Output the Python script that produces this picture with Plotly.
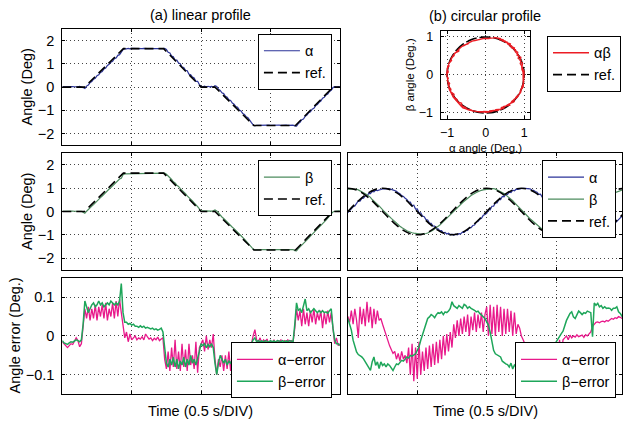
import numpy as np
import plotly.graph_objects as go

# ---------------- data ----------------
# linear profile reference: breakpoints (time s, angle deg)
T_LIN = [0.0, 0.16, 0.44, 0.73, 1.0, 1.1, 1.38, 1.68, 1.95, 2.0]
REF_LIN = [0.0, 0.0, 1.65, 1.65, 0.0, 0.0, -1.65, -1.65, 0.0, 0.0]

# circular profile reference samples every 0.05 s
REF_STEP = 0.05
ALPHA_REF_CIRC = [0, 0.309, 0.588, 0.809, 0.951, 1, 0.951, 0.809, 0.588, 0.309,
                  0, -0.309, -0.588, -0.809, -0.951, -1, -0.951, -0.809, -0.588, -0.309,
                  0, 0.309, 0.588, 0.809, 0.951, 1, 0.951, 0.809, 0.588, 0.309,
                  0, -0.309, -0.588, -0.809, -0.951, -1, -0.951, -0.809, -0.588, -0.309, 0]
BETA_REF_CIRC = [1, 0.951, 0.809, 0.588, 0.309, 0, -0.309, -0.588, -0.809, -0.951,
                 -1, -0.951, -0.809, -0.588, -0.309, 0, 0.309, 0.588, 0.809, 0.951,
                 1, 0.951, 0.809, 0.588, 0.309, 0, -0.309, -0.588, -0.809, -0.951,
                 -1, -0.951, -0.809, -0.588, -0.309, 0, 0.309, 0.588, 0.809, 0.951, 1]

# tracking errors sampled every 0.0125 s (deg)
ERR_STEP = 0.0125
ALPHA_ERR_LIN = [
    -0.015, -0.02, -0.025, -0.03, -0.025, -0.02, -0.022, -0.015,
    -0.005, -0.012, -0.028, -0.02, 0.02, 0.07, 0.045, 0.075,
    0.04, 0.07, 0.045, 0.08, 0.04, 0.075, 0.05, 0.08,
    0.045, 0.085, 0.04, 0.07, 0.05, 0.085, 0.045, 0.09,
    0.05, 0.095, 0.06, 0.03, -0.005, 0.01, -0.015, 0.005,
    -0.01, -0.005, 0.0, -0.01, -0.005, -0.008, -0.002, -0.01,
    0.005, -0.002, -0.008, -0.005, -0.012, -0.006, -0.01, -0.003,
    -0.012, -0.008, -0.005, -0.06, -0.085, -0.04, -0.09, -0.03,
    -0.08, -0.01, -0.085, -0.04, -0.09, -0.02, -0.08, -0.035,
    -0.09, -0.02, -0.075, -0.05, -0.085, -0.015, -0.095, -0.03,
    -0.02, -0.01, -0.04, 0.0, -0.035, -0.01, -0.03, 0.005,
    -0.06, -0.1, -0.06, -0.08, -0.05, -0.09, -0.05, -0.085,
    -0.04, -0.09, -0.05, -0.08, -0.045, -0.09, -0.05, -0.085,
    -0.04, -0.08, -0.05, -0.085, -0.03, -0.02, 0.0, 0.016,
    -0.01, -0.015, -0.005, -0.02, -0.01, -0.015, -0.008, -0.02,
    -0.012, -0.018, -0.01, -0.02, -0.012, -0.015, -0.01, -0.02,
    -0.012, -0.015, -0.01, -0.018, -0.012, -0.015, 0.02, 0.07,
    0.04, 0.065, 0.025, 0.07, 0.03, 0.06, 0.025, 0.065,
    0.035, 0.07, 0.03, 0.06, 0.04, 0.065, 0.02, 0.06,
    0.03, 0.065, 0.035, 0.06, 0.02, -0.02, -0.005, -0.025,
    -0.02]
BETA_ERR_LIN = [
    -0.012, -0.018, -0.02, -0.022, -0.018, -0.015, -0.016, -0.012,
    -0.01, -0.012, -0.015, -0.01, 0.03, 0.09, 0.075, 0.06,
    0.07, 0.08, 0.085, 0.075, 0.08, 0.09, 0.08, 0.085,
    0.075, 0.08, 0.085, 0.08, 0.09, 0.085, 0.08, 0.085,
    0.08, 0.09, 0.135, 0.06, 0.035, 0.035, 0.03, 0.032,
    0.028, 0.03, 0.025, 0.025, 0.022, 0.026, 0.022, 0.025,
    0.02, 0.022, 0.02, 0.018, 0.02, 0.016, 0.018, 0.015,
    0.017, 0.02, 0.01, -0.04, -0.07, -0.08, -0.06, -0.075,
    -0.055, -0.08, -0.06, -0.085, -0.065, -0.075, -0.055, -0.08,
    -0.06, -0.075, -0.05, -0.07, -0.06, -0.075, -0.06, -0.04,
    -0.02, -0.025, -0.02, -0.03, -0.022, -0.028, -0.02, -0.03,
    -0.07, -0.1, -0.07, -0.05, -0.06, -0.07, -0.06, -0.075,
    -0.065, -0.07, -0.06, -0.075, -0.065, -0.07, -0.06, -0.075,
    -0.065, -0.07, -0.06, -0.07, -0.04, -0.02, -0.01, -0.005,
    -0.015, -0.012, -0.015, -0.013, -0.016, -0.012, -0.014, -0.016,
    -0.012, -0.015, -0.013, -0.016, -0.012, -0.014, -0.015, -0.012,
    -0.016, -0.013, -0.015, -0.012, -0.014, -0.015, 0.03, 0.085,
    0.065, 0.07, 0.06, 0.075, 0.095, 0.065, 0.07, 0.06,
    0.065, 0.07, 0.065, 0.06, 0.065, 0.06, 0.065, 0.06,
    0.062, 0.058, 0.065, 0.07, 0.02, -0.01, -0.02, -0.02,
    -0.025]
ALPHA_ERR_CIRC = [
    0.05, 0.035, 0.065, 0.03, 0.07, 0.04, -0.005, 0.075,
    0.03, 0.07, 0.025, 0.088, 0.035, 0.075, 0.02, 0.07,
    0.03, 0.065, 0.04, 0.045, 0.03, 0.015, 0.0, -0.01,
    -0.025, -0.035, -0.045, -0.04, -0.06, -0.045, -0.065, -0.04,
    -0.06, -0.05, -0.07, -0.03, -0.1, -0.02, -0.117, -0.03,
    -0.11, -0.015, -0.1, -0.04, -0.09, -0.03, -0.085, -0.025,
    -0.08, -0.02, -0.075, -0.015, -0.07, -0.01, -0.06, 0.0,
    -0.05, 0.005, -0.04, 0.01, -0.03, 0.03, -0.005, 0.04,
    0.0, 0.045, 0.005, 0.05, 0.01, 0.055, 0.0, 0.05,
    0.015, 0.06, 0.01, 0.055, 0.02, 0.06, 0.01, 0.055,
    0.075, 0.0, 0.08, 0.005, 0.075, 0.0, 0.08, 0.01,
    0.075, 0.0, 0.07, 0.005, 0.07, 0.01, 0.065, 0.0,
    0.06, 0.005, 0.03, 0.02, 0.0, -0.01, -0.02, -0.035,
    -0.04, -0.06, -0.045, -0.065, -0.05, -0.07, -0.04, -0.1,
    -0.03, -0.11, -0.02, -0.1, -0.04, -0.09, -0.03, -0.08,
    -0.02, -0.07, -0.01, -0.05, -0.01, -0.005, 0.0, -0.01,
    0.002, -0.005, 0.0, -0.003, 0.003, -0.002, 0.0, 0.002,
    -0.004, 0.003, 0.0, 0.005, 0.01, 0.025, 0.03, 0.035,
    0.036, 0.034, 0.037, 0.038, 0.036, 0.04, 0.038, 0.042,
    0.045, 0.043, 0.047, 0.045, 0.05, 0.048, 0.045, 0.045,
    0.045]
BETA_ERR_CIRC = [
    0.045, 0.032, 0.015, -0.011, -0.028, -0.041, -0.048, -0.05,
    -0.054, -0.059, -0.067, -0.074, -0.08, -0.089, -0.067, -0.054,
    -0.076, -0.067, -0.084, -0.067, -0.076, -0.072, -0.08, -0.072,
    -0.076, -0.084, -0.089, -0.08, -0.072, -0.074, -0.067, -0.063,
    -0.065, -0.059, -0.054, -0.057, -0.05, -0.052, -0.048, -0.046,
    -0.037, -0.028, -0.011, 0.002, 0.015, 0.028, 0.045, 0.049,
    0.055, 0.052, 0.047, 0.055, 0.06, 0.058, 0.062, 0.055,
    0.062, 0.06, 0.064, 0.071, 0.088, 0.078, 0.075, 0.071,
    0.078, 0.075, 0.071, 0.081, 0.078, 0.071, 0.075, 0.071,
    0.069, 0.066, 0.062, 0.064, 0.058, 0.053, 0.049, 0.045,
    0.036, 0.028, 0.01, -0.011, -0.037, -0.046, -0.048, -0.05,
    -0.054, -0.065, -0.069, -0.072, -0.074, -0.08, -0.07, -0.085,
    -0.075, -0.08, -0.07, -0.085, -0.09, -0.08, -0.075, -0.07,
    -0.072, -0.065, -0.068, -0.06, -0.062, -0.058, -0.055, -0.056,
    -0.05, -0.052, -0.048, -0.045, -0.04, -0.035, -0.03, -0.022,
    -0.015, -0.008, 0.0, 0.006, 0.012, 0.028, 0.04, 0.049,
    0.058, 0.062, 0.049, 0.045, 0.053, 0.064, 0.06, 0.055,
    0.06, 0.058, 0.064, 0.062, 0.06, -0.002, 0.085, 0.079,
    0.084, 0.075, 0.078, 0.071, 0.075, 0.071, 0.072, 0.071,
    0.066, 0.071, 0.071, 0.075, 0.062, 0.058, 0.049, 0.04,
    0.035]

ANGLE_TICKS = [-2, -1, 0, 1, 2]
ERR_TICKS = [-0.1, 0, 0.1]
CIRC_TICKS = [-1, 0, 1]
TIME_GRID = [0.5, 1.0, 1.5]

# ---------------- derived series ----------------
t_err = np.arange(len(ALPHA_ERR_LIN)) * ERR_STEP
t_ref_c = np.arange(len(ALPHA_REF_CIRC)) * REF_STEP
ref_lin_on_err = np.interp(t_err, T_LIN, REF_LIN)
alpha_lin = ref_lin_on_err - np.array(ALPHA_ERR_LIN)
beta_lin = ref_lin_on_err - np.array(BETA_ERR_LIN)
a_ref_on_err = np.interp(t_err, t_ref_c, ALPHA_REF_CIRC)
b_ref_on_err = np.interp(t_err, t_ref_c, BETA_REF_CIRC)
alpha_c = a_ref_on_err - np.array(ALPHA_ERR_CIRC)
beta_c = b_ref_on_err - np.array(BETA_ERR_CIRC)

# ---------------- styling ----------------
W, H = 623, 428
FONT = "Liberation Sans, Arial, Helvetica, sans-serif"
FS = 14.5
C_ALPHA = "#2b3399"
C_BETA = "#4d8c5e"
C_RED = "#ec1c24"
C_AERR = "#e8198b"
C_BERR = "#1ea65a"
DASH = "9px,5px"


def dx(a, b):
    return [a / W, b / W]


def dy(top, bottom):
    return [1 - bottom / H, 1 - top / H]


def ax(**kw):
    d = dict(showline=True, linecolor="black", linewidth=1, mirror="ticks",
             ticks="inside", ticklen=3, tickcolor="black",
             showgrid=True, gridcolor="#444", griddash="1px,3px", gridwidth=1,
             zeroline=False, ticklabelstandoff=4,
             tickfont=dict(size=FS, color="black", family=FONT))
    d.update(kw)
    return d


def leg(right, top):
    return dict(x=right / W, y=1 - top / H, xanchor="right", yanchor="top",
                bgcolor="white", bordercolor="black", borderwidth=1,
                font=dict(size=14.5, family=FONT, color="black"),
                tracegroupgap=0, itemwidth=36)


fig = go.Figure()

# A: alpha linear
fig.add_trace(go.Scatter(x=t_err, y=alpha_lin, mode="lines", name="α",
                         line=dict(color=C_ALPHA, width=1.2), xaxis="x", yaxis="y", legend="legend"))
fig.add_trace(go.Scatter(x=T_LIN, y=REF_LIN, mode="lines", name="ref.",
                         line=dict(color="black", width=1.6, dash=DASH), xaxis="x", yaxis="y", legend="legend"))

# B: circle
fig.add_trace(go.Scatter(x=ALPHA_REF_CIRC, y=BETA_REF_CIRC, mode="lines", name="ref.",
                         line=dict(color="black", width=1.6, dash=DASH, shape="spline"),
                         xaxis="x2", yaxis="y2", legend="legend2", legendrank=2))
fig.add_trace(go.Scatter(x=alpha_c, y=beta_c, mode="lines", name="αβ",
                         line=dict(color=C_RED, width=1.3), xaxis="x2", yaxis="y2",
                         legend="legend2", legendrank=1))

# C: beta linear
fig.add_trace(go.Scatter(x=t_err, y=beta_lin, mode="lines", name="β",
                         line=dict(color=C_BETA, width=1.2), xaxis="x3", yaxis="y3", legend="legend3"))
fig.add_trace(go.Scatter(x=T_LIN, y=REF_LIN, mode="lines", name="ref.",
                         line=dict(color="black", width=1.6, dash=DASH), xaxis="x3", yaxis="y3", legend="legend3"))

# D: circular profile time series
fig.add_trace(go.Scatter(x=t_err, y=alpha_c, mode="lines", name="α",
                         line=dict(color=C_ALPHA, width=1.2), xaxis="x4", yaxis="y4", legend="legend4"))
fig.add_trace(go.Scatter(x=t_err, y=beta_c, mode="lines", name="β",
                         line=dict(color=C_BETA, width=1.2), xaxis="x4", yaxis="y4", legend="legend4"))
fig.add_trace(go.Scatter(x=t_ref_c, y=ALPHA_REF_CIRC, mode="lines", name="ref.",
                         line=dict(color="black", width=1.6, dash=DASH, shape="spline"),
                         xaxis="x4", yaxis="y4", legend="legend4"))
fig.add_trace(go.Scatter(x=t_ref_c, y=BETA_REF_CIRC, mode="lines", name="ref.", showlegend=False,
                         line=dict(color="black", width=1.6, dash=DASH, shape="spline"),
                         xaxis="x4", yaxis="y4", legend="legend4"))

# E: linear errors
fig.add_trace(go.Scatter(x=t_err, y=ALPHA_ERR_LIN, mode="lines", name="α−error",
                         line=dict(color=C_AERR, width=1.3), xaxis="x5", yaxis="y5", legend="legend5"))
fig.add_trace(go.Scatter(x=t_err, y=BETA_ERR_LIN, mode="lines", name="β−error",
                         line=dict(color=C_BERR, width=1.5), xaxis="x5", yaxis="y5", legend="legend5"))

# F: circular errors
fig.add_trace(go.Scatter(x=t_err, y=ALPHA_ERR_CIRC, mode="lines", name="α−error",
                         line=dict(color=C_AERR, width=1.3), xaxis="x6", yaxis="y6", legend="legend6"))
fig.add_trace(go.Scatter(x=t_err, y=BETA_ERR_CIRC, mode="lines", name="β−error",
                         line=dict(color=C_BERR, width=1.5), xaxis="x6", yaxis="y6", legend="legend6"))

RIGHT_END = (W - 348) / 139.25

time_ax = dict(tickvals=TIME_GRID, showticklabels=False)
fig.update_layout(
    width=W, height=H, margin=dict(l=0, r=0, t=0, b=0),
    paper_bgcolor="white", plot_bgcolor="white",
    font=dict(family=FONT, color="black", size=FS),
    showlegend=True,
    xaxis=ax(domain=dx(61.5, 340), range=[0, 2], anchor="y", **time_ax),
    yaxis=ax(domain=dy(28, 145), range=[-2.5, 2.5], tickvals=ANGLE_TICKS, anchor="x"),
    xaxis2=ax(domain=dx(441, 531), range=[-1.17, 1.16], tickvals=CIRC_TICKS, anchor="y2",
              ticklabelstandoff=2, tickfont=dict(size=12.5, color="black", family=FONT)),
    yaxis2=ax(domain=dy(30, 119), range=[-1.17, 1.16], tickvals=CIRC_TICKS, anchor="x2",
              tickfont=dict(size=12.5, color="black", family=FONT)),
    xaxis3=ax(domain=dx(61.5, 340), range=[0, 2], anchor="y3", **time_ax),
    yaxis3=ax(domain=dy(153, 270), range=[-2.5, 2.5], tickvals=ANGLE_TICKS, anchor="x3"),
    xaxis4=ax(domain=dx(348, W), range=[0, RIGHT_END], anchor="y4", **time_ax),
    yaxis4=ax(domain=dy(153, 270), range=[-2.5, 2.5], tickvals=ANGLE_TICKS, anchor="x4",
              showticklabels=False),
    xaxis5=ax(domain=dx(61.5, 340), range=[0, 2], anchor="y5", **time_ax),
    yaxis5=ax(domain=dy(278, 395), range=[-0.15, 0.15], tickvals=ERR_TICKS, anchor="x5"),
    xaxis6=ax(domain=dx(348, W), range=[0, RIGHT_END], anchor="y6", **time_ax),
    yaxis6=ax(domain=dy(278, 395), range=[-0.15, 0.15], tickvals=ERR_TICKS, anchor="x6",
              showticklabels=False),
    legend=leg(332, 33),
    legend2=leg(622, 35),
    legend3=leg(332, 160),
    legend4=leg(617, 160),
    legend5=leg(332, 343),
    legend6=leg(617, 343),
)


def txt(x, y, s, size=FS, angle=0):
    fig.add_annotation(x=x / W, y=1 - y / H, xref="paper", yref="paper", text=s,
                       showarrow=False, xanchor="center", yanchor="middle",
                       textangle=angle, font=dict(size=size, family=FONT, color="black"))


txt(200, 14, "(a) linear profile")
txt(486, 15, "(b) circular profile")
txt(486, 148, "α angle (Deg.)", size=11.5)
txt(410, 74, "β angle (Deg.)", size=11.5, angle=-90)
txt(26, 86, "Angle (Deg)", angle=-90)
txt(26, 211, "Angle (Deg)", angle=-90)
txt(14, 336, "Angle error (Deg.)", angle=-90)
txt(200, 412, "Time (0.5 s/DIV)")
txt(486, 412, "Time (0.5 s/DIV)")

fig.write_html("out.html", config={"displayModeBar": False},
               post_script="document.body.style.margin='0px';document.body.style.overflow='hidden';")
